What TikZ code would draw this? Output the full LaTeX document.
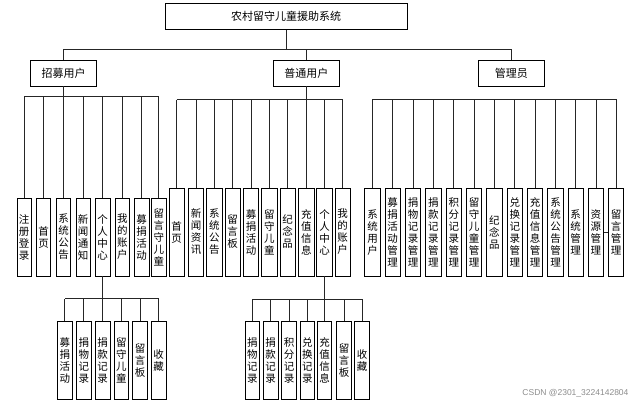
\documentclass[tikz,border=0pt]{standalone}
\usepackage{fontspec}
\newfontfamily\cjk{Noto Sans CJK SC}
\newfontfamily\wmfont{Liberation Sans}
\begin{document}
\begin{tikzpicture}[x=1pt,y=-1pt,
  box/.style={draw=black, line width=0.8pt, fill=white, inner sep=0pt, align=center,
    font=\cjk\fontsize{10.5}{12}\selectfont},
  topbox/.style={box, minimum width=242pt, minimum height=26pt, font=\cjk\fontsize{11}{13}\selectfont},
  rolebox/.style={box, minimum width=66pt, minimum height=26pt, font=\cjk\fontsize{11}{13}\selectfont},
  lbox/.style={box, minimum width=14.6pt, minimum height=78pt},
  mbox/.style={box, minimum width=15.3pt, minimum height=88pt},
  sbox/.style={box, minimum width=14.6pt, minimum height=77.6pt},
  link/.style={line width=0.8pt, draw=black!85}]
\useasboundingbox (0,0) rectangle (639,405);

% root and roles
\node[topbox] (root) at (286.2,16.3) {农村留守儿童援助系统};
\node[rolebox] (recruit) at (63.5,73) {招募用户};
\node[rolebox] (normal) at (306.3,73) {普通用户};
\node[rolebox] (admin) at (511.3,73) {管理员};

% recruit children
\node[lbox] (l1) at (24.2,237) {注\\册\\登\\录};
\node[lbox] (l2) at (43.5,237) {首\\页};
\node[lbox] (l3) at (63.5,237) {系\\统\\公\\告};
\node[lbox] (l4) at (83.2,237) {新\\闻\\通\\知};
\node[lbox] (l5) at (102.7,237) {个\\人\\中\\心};
\node[lbox] (l6) at (122.3,237) {我\\的\\账\\户};
\node[lbox] (l7) at (141.7,237) {募\\捐\\活\\动};
\node[lbox] (l8) at (158.8,237) {留\\言\\守\\儿\\童};

% recruit personal centre children
\node[sbox] (ls1) at (64.8,360.5) {募\\捐\\活\\动};
\node[sbox] (ls2) at (83.8,360.5) {捐\\物\\记\\录};
\node[sbox] (ls3) at (102.7,360.5) {捐\\款\\记\\录};
\node[sbox] (ls4) at (121.3,360.5) {留\\守\\儿\\童};
\node[sbox] (ls5) at (140,360.5) {留\\言\\板};
\node[sbox] (ls6) at (158.7,360.5) {收\\藏};

% normal children
\node[mbox] (m1) at (176.7,232) {首\\页};
\node[mbox] (m2) at (196,232) {新\\闻\\资\\讯};
\node[mbox] (m3) at (214.3,232) {系\\统\\公\\告};
\node[mbox] (m4) at (232.7,232) {留\\言\\板};
\node[mbox] (m5) at (251,232) {募\\捐\\活\\动};
\node[mbox] (m6) at (269.3,232) {留\\守\\儿\\童};
\node[mbox] (m7) at (287.7,232) {纪\\念\\品};
\node[mbox] (m8) at (306.3,232) {充\\值\\信\\息};
\node[mbox] (m9) at (324.5,232) {个\\人\\中\\心};
\node[mbox] (m10) at (342.7,232) {我\\的\\账\\户};

% normal personal centre children
\node[sbox] (ms1) at (252.3,360.5) {捐\\物\\记\\录};
\node[sbox] (ms2) at (270.7,360.5) {捐\\款\\记\\录};
\node[sbox] (ms3) at (289,360.5) {积\\分\\记\\录};
\node[sbox] (ms4) at (307.3,360.5) {兑\\换\\记\\录};
\node[sbox] (ms5) at (324.5,360.5) {充\\值\\信\\息};
\node[sbox] (ms6) at (344,360.5) {留\\言\\板};
\node[sbox] (ms7) at (362,360.5) {收\\藏};

% admin children
\node[mbox] (r1) at (372.5,232.5) {系\\统\\用\\户};
\node[mbox] (r2) at (392.7,232.5) {募\\捐\\活\\动\\管\\理};
\node[mbox] (r3) at (413.1,232.5) {捐\\物\\记\\录\\管\\理};
\node[mbox] (r4) at (433.3,232.5) {捐\\款\\记\\录\\管\\理};
\node[mbox] (r5) at (453.8,232.5) {积\\分\\记\\录\\管\\理};
\node[mbox] (r6) at (474,232.5) {留\\守\\儿\\童\\管\\理};
\node[mbox] (r7) at (494.3,232.5) {纪\\念\\品};
\node[mbox] (r8) at (514.8,232.5) {兑\\换\\记\\录\\管\\理};
\node[mbox] (r9) at (535.1,232.5) {充\\值\\信\\息\\管\\理};
\node[mbox] (r10) at (555.5,232.5) {系\\统\\公\\告\\管\\理};
\node[mbox] (r11) at (575.7,232.5) {系\\统\\管\\理};
\node[mbox] (r12) at (595.9,232.5) {资\\源\\管\\理};
\node[mbox] (r13) at (616,232.5) {留\\言\\管\\理};

% bar levels
\coordinate (y0) at (0,49);
\coordinate (yl) at (0,96);
\coordinate (ym) at (0,99.7);
\coordinate (yr) at (0,99.3);
\coordinate (yls) at (0,298.5);
\coordinate (yms) at (0,299);

% root to roles
\draw[link] (root.south) -- (root.south |- y0);
\draw[link] (recruit.north |- y0) -- (admin.north |- y0);
\foreach \n in {recruit,normal,admin} \draw[link] (\n.north) -- (\n.north |- y0);

% recruit
\draw[link] (recruit.south) -- (recruit.south |- yl);
\draw[link] (l1.north |- yl) -- (l8.north |- yl);
\foreach \n in {l1,l2,l3,l4,l5,l6,l7,l8} \draw[link] (\n.north) -- (\n.north |- yl);
\draw[link] (l5.south) -- (l5.south |- yls);
\draw[link] (ls1.north |- yls) -- (ls6.north |- yls);
\foreach \n in {ls1,ls2,ls3,ls4,ls5,ls6} \draw[link] (\n.north) -- (\n.north |- yls);

% normal
\draw[link] (normal.south) -- (normal.south |- ym);
\draw[link] (m1.north |- ym) -- (m10.north |- ym);
\foreach \n in {m1,m2,m3,m4,m5,m6,m7,m8,m9,m10} \draw[link] (\n.north) -- (\n.north |- ym);
\draw[link] (m9.south) -- (m9.south |- yms);
\draw[link] (ms1.north |- yms) -- (ms7.north |- yms);
\foreach \n in {ms1,ms2,ms3,ms4,ms5,ms6,ms7} \draw[link] (\n.north) -- (\n.north |- yms);

% admin
\draw[link] (r1.north |- yr) -- (r13.north |- yr);
\foreach \n in {r1,r2,r3,r4,r5,r6,r7,r8,r9,r10,r11,r12,r13} \draw[link] (\n.north) -- (\n.north |- yr);
\draw[link] (r12.east) -- (r13.west);

% watermark
\node[text=black!45, font=\wmfont\fontsize{8.5}{10}\selectfont, anchor=east] (wm) at (632,393) {CSDN @2301\_3224142804};
\end{tikzpicture}
\end{document}
